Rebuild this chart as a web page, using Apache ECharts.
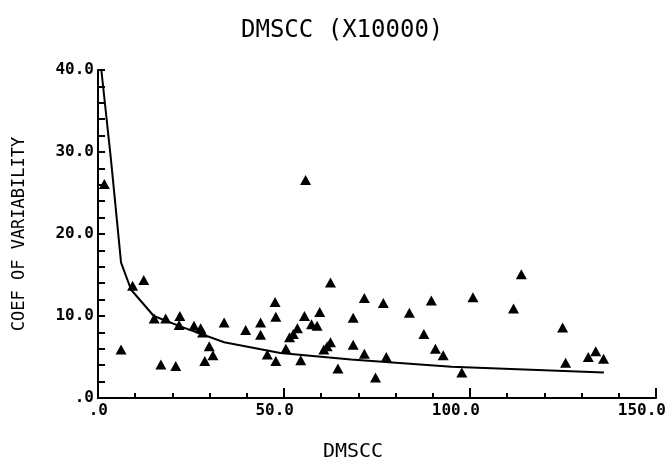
<!DOCTYPE html>
<html><head><meta charset="utf-8">
<script src="https://cdn.jsdelivr.net/npm/echarts@6/dist/echarts.min.js"></script>
<style>html,body{margin:0;padding:0;background:#fff}#c{width:666px;height:461px}</style>
</head><body><div id="c"></div>
<script>
const titleText = 'DMSCC (X10000)';
const xName = 'DMSCC';
const yName = 'COEF OF VARIABILITY';
const xTickValues = [0, 50, 100, 150];
const xTickLabels = ['.0', '50.0', '100.0', '150.0'];
const yTickValues = [0, 10, 20, 30, 40];
const yTickLabels = ['.0', '10.0', '20.0', '30.0', '40.0'];

const pointX = [1.7, 6.2, 9.3, 12.3, 15.1, 18.2, 16.9, 20.9, 22.0, 21.8, 25.8, 27.6, 28.1, 29.9, 30.9, 28.7,
  33.9, 39.7, 43.7, 43.7, 45.5, 47.8, 47.6, 47.8, 55.8, 62.5, 50.5, 54.5, 51.5, 52.5, 53.6, 55.5,
  57.4, 58.9, 59.6, 60.7, 61.6, 62.5, 64.5, 68.6, 68.6, 71.6, 71.6, 74.6, 76.7, 77.5, 83.7, 87.6,
  89.6, 90.7, 92.8, 100.8, 97.8, 111.7, 113.8, 124.9, 125.7, 131.8, 133.8, 135.9];
const pointY = [26.1, 5.9, 13.7, 14.4, 9.7, 9.7, 4.1, 3.9, 10.0, 8.9, 8.8, 8.5, 8.0, 6.3, 5.2, 4.5,
  9.2, 8.3, 9.2, 7.7, 5.3, 4.5, 11.7, 9.9, 26.6, 14.1, 6.0, 4.6, 7.4, 7.8, 8.5, 10.0,
  9.0, 8.8, 10.5, 5.9, 6.3, 6.8, 3.6, 9.8, 6.5, 12.2, 5.4, 2.5, 11.6, 5.0, 10.4, 7.8,
  11.9, 6.0, 5.2, 12.3, 3.1, 10.9, 15.1, 8.6, 4.3, 5.0, 5.7, 4.8];

const curveX = [0.9, 3.5, 6.2, 8.9, 15.0, 22.3, 33.9, 49.0, 68.0, 95.0, 136.0];
const curveY = [40.0, 29.0, 16.5, 13.2, 10.0, 8.7, 6.8, 5.5, 4.7, 3.8, 3.1];

const mono = 'DejaVu Sans Mono';
function xLab(v) { const i = xTickValues.indexOf(v); return i < 0 ? '' : xTickLabels[i]; }
function yLab(v) { const i = yTickValues.indexOf(v); return i < 0 ? '' : yTickLabels[i]; }

const chart = echarts.init(document.getElementById('c'), null, {renderer: 'canvas'});
chart.setOption({
  backgroundColor: '#fff',
  animation: false,
  title: {
    text: titleText, left: 236, top: 14,
    textStyle: {fontFamily: mono, fontSize: 24, fontWeight: 'normal', color: '#000'}
  },
  grid: {left: 98, right: 10, top: 70, bottom: 63, outerBoundsMode: 'none', containLabel: false},
  xAxis: {
    type: 'value', min: 0, max: 150, interval: 50,
    name: xName, nameLocation: 'middle', nameGap: 44,
    nameTextStyle: {fontFamily: mono, fontSize: 20, color: '#000', padding: [0, 48, 0, 0]},
    axisLine: {show: true, onZero: false, lineStyle: {color: '#000', width: 2}},
    axisTick: {show: true, inside: true, length: 10, lineStyle: {color: '#000', width: 2}},
    minorTick: {show: true, splitNumber: 5, length: 5, lineStyle: {color: '#000', width: 2}},
    splitLine: {show: false},
    axisLabel: {
      margin: 5, align: 'right', padding: [0, -10, 0, 0], formatter: xLab,
      hideOverlap: false, showMaxLabel: true, showMinLabel: true,
      fontFamily: mono, fontSize: 16, fontWeight: 'bold', color: '#000'
    }
  },
  yAxis: {
    type: 'value', min: 0, max: 40, interval: 10,
    name: yName, nameLocation: 'middle', nameGap: 70, nameRotate: 90,
    nameTextStyle: {fontFamily: mono, fontSize: 17, color: '#000'},
    axisLine: {show: true, lineStyle: {color: '#000', width: 2}},
    axisTick: {show: true, inside: true, length: 7, lineStyle: {color: '#000', width: 2}},
    minorTick: {show: true, splitNumber: 5, length: 7, lineStyle: {color: '#000', width: 2}},
    splitLine: {show: false},
    axisLabel: {margin: 4, formatter: yLab, fontFamily: mono, fontSize: 16, fontWeight: 'bold', color: '#000'}
  },
  series: [
    {
      type: 'line', data: curveX.map((x, i) => [x, curveY[i]]),
      symbol: 'none', smooth: false, lineStyle: {color: '#000', width: 2}, z: 2
    },
    {
      type: 'scatter', data: pointX.map((x, i) => [x, pointY[i]]),
      symbol: 'triangle', symbolSize: [11, 10], itemStyle: {color: '#000', opacity: 1}, z: 3
    }
  ]
});
</script>
</body></html>
